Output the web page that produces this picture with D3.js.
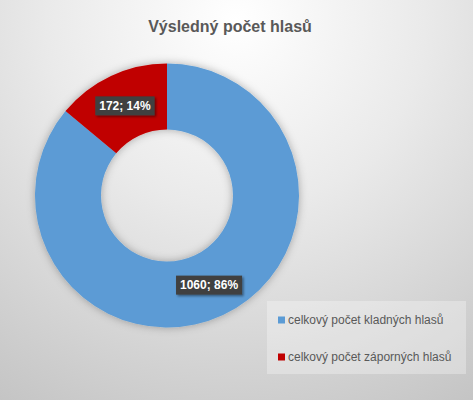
<!DOCTYPE html>
<html>
<head>
<meta charset="utf-8">
<script src="https://cdn.jsdelivr.net/npm/d3@7"></script>
<style>
  body { margin: 0; }
  svg { display: block; }
</style>
</head>
<body>
<div id="chart"></div>
<script>
const categories = ["celkový počet kladných hlasů", "celkový počet záporných hlasů"];
const values = [1060, 172];
const colors = ["#5b9bd5", "#c00000"];
const title = "Výsledný počet hlasů";

const width = 473, height = 400;
const cx = 167, cy = 195.5;
const outerR = 132, innerR = 66;
const font = "'Liberation Sans', Arial, sans-serif";

const svg = d3.select("#chart")
    .append("svg")
    .attr("width", width)
    .attr("height", height);

const defs = svg.append("defs");

// background gradient, light near the title and grey to the bottom corners
const bg = defs.append("radialGradient")
    .attr("id", "bg")
    .attr("gradientUnits", "userSpaceOnUse")
    .attr("cx", 236).attr("cy", 20).attr("r", 450);
bg.append("stop").attr("offset", "0%").attr("stop-color", "#ffffff");
bg.append("stop").attr("offset", "42%").attr("stop-color", "#eaeaea");
bg.append("stop").attr("offset", "100%").attr("stop-color", "#c4c4c4");

const shadow = defs.append("filter").attr("id", "shadow")
    .attr("x", "-20%").attr("y", "-20%").attr("width", "140%").attr("height", "140%");
shadow.append("feDropShadow")
    .attr("dx", 0).attr("dy", 0).attr("stdDeviation", 4)
    .attr("flood-color", "#000").attr("flood-opacity", 0.3);

const lblShadow = defs.append("filter").attr("id", "lblshadow")
    .attr("x", "-20%").attr("y", "-30%").attr("width", "140%").attr("height", "160%");
lblShadow.append("feDropShadow")
    .attr("dx", 1.5).attr("dy", 1.5).attr("stdDeviation", 1.2)
    .attr("flood-color", "#000").attr("flood-opacity", 0.45);

svg.append("rect")
    .attr("width", width)
    .attr("height", height)
    .attr("fill", "url(#bg)");

// title
svg.append("text")
    .attr("x", 230)
    .attr("y", 32)
    .attr("text-anchor", "middle")
    .attr("font-family", font)
    .attr("font-weight", "bold")
    .attr("font-size", "16px")
    .attr("fill", "#595959")
    .text(title);

const data = categories.map((c, i) => ({name: c, value: values[i], color: colors[i]}));
const total = d3.sum(values);

const pie = d3.pie()
    .value(d => d.value)
    .sort(null);

const arc = d3.arc()
    .innerRadius(innerR)
    .outerRadius(outerR);

const labelArc = d3.arc()
    .innerRadius((innerR + outerR) / 2)
    .outerRadius((innerR + outerR) / 2);

const g = svg.append("g")
    .attr("transform", `translate(${cx},${cy})`);

g.append("g")
    .attr("filter", "url(#shadow)")
    .selectAll("path")
    .data(pie(data))
    .enter()
    .append("path")
    .attr("d", arc)
    .attr("fill", d => d.data.color);

// data labels in dark boxes
const labels = g.selectAll(".label")
    .data(pie(data))
    .enter()
    .append("g")
    .attr("class", "label")
    .attr("transform", d => `translate(${labelArc.centroid(d)})`);

labels.append("rect")
    .attr("filter", "url(#lblshadow)")
    .attr("fill", "#404040");

labels.append("text")
    .attr("text-anchor", "middle")
    .attr("dy", "0.36em")
    .attr("font-family", font)
    .attr("font-weight", "bold")
    .attr("font-size", "12px")
    .attr("fill", "#ffffff")
    .text(d => `${d.data.value}; ${Math.round(d.data.value / total * 100)}%`);

labels.each(function() {
    const t = d3.select(this).select("text").node();
    const w = t.getComputedTextLength() + 8;
    d3.select(this).select("rect")
        .attr("x", -w / 2)
        .attr("y", -9.5)
        .attr("width", w)
        .attr("height", 19);
});

// legend
const legend = svg.append("g")
    .attr("transform", "translate(267,301)");

legend.append("rect")
    .attr("width", 199)
    .attr("height", 73)
    .attr("fill", "#ffffff")
    .attr("fill-opacity", 0.3);

const items = legend.selectAll(".legend")
    .data(data)
    .enter()
    .append("g")
    .attr("class", "legend")
    .attr("transform", (d, i) => `translate(11,${19 + i * 37})`);

items.append("rect")
    .attr("x", 0)
    .attr("y", -3.5)
    .attr("width", 7)
    .attr("height", 7)
    .attr("fill", d => d.color);

items.append("text")
    .attr("x", 10)
    .attr("dy", "0.35em")
    .attr("font-family", font)
    .attr("font-size", "12px")
    .attr("fill", "#595959")
    .text(d => d.name);
</script>
</body>
</html>
